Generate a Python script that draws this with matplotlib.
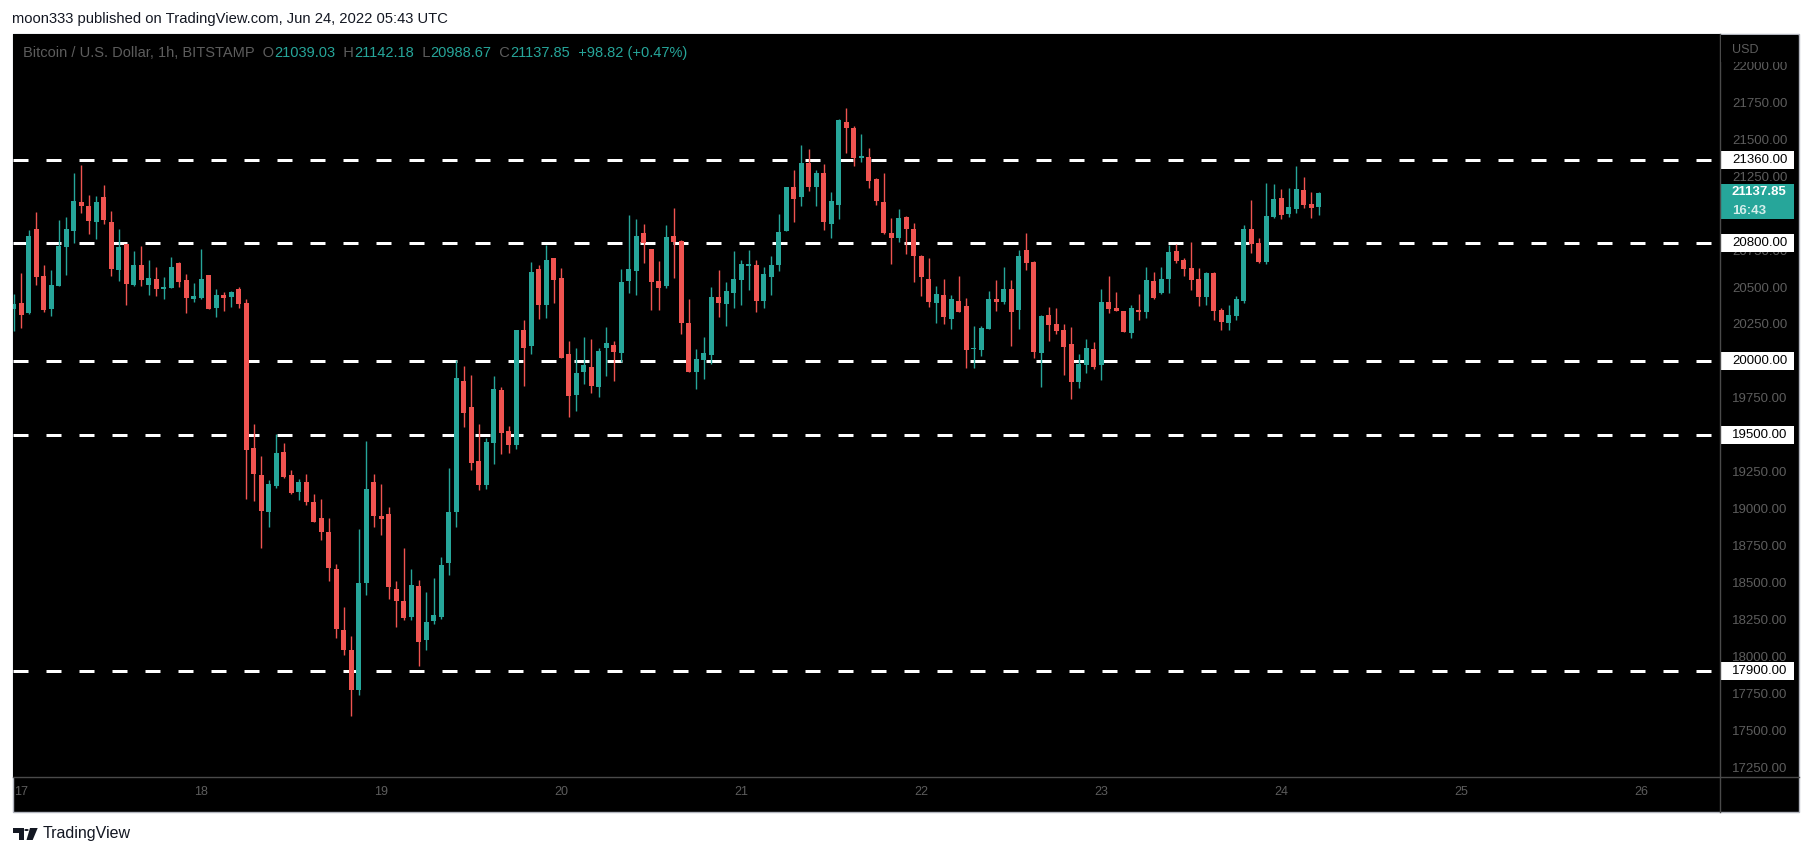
import numpy as np
import matplotlib
matplotlib.use("Agg")
from matplotlib import pyplot as plt
from matplotlib.patches import Rectangle, Polygon, Circle
from matplotlib.lines import Line2D
from matplotlib.transforms import blended_transform_factory

plt.rcParams['font.family'] = ['Liberation Sans', 'DejaVu Sans']

# BTCUSD 1h candles, first one is Jun 16 23:00, last one Jun 24 05:00
opens = [20351, 20392, 20324, 20893, 20575, 20354, 20509, 20773, 20882, 21076,
         21049, 20943, 21110, 20940, 20618, 20791, 20516, 20649, 20516, 20555,
         20489, 20496, 20663, 20548, 20421, 20428, 20582, 20360, 20446, 20435,
         20487, 20392, 19410, 19228, 18977, 19153, 19383, 19228, 19113, 19180,
         19045, 18937, 18842, 18591, 18178, 18043, 17772, 18496, 19180, 18950,
         18964, 18456, 18375, 18266, 18476, 18110, 18239, 18266, 18632, 18977,
         19864, 19687, 19322, 19159, 19444, 19802, 19525, 19430, 20209, 20100,
         20622, 20378, 20696, 20561, 20046, 19769, 19924, 19958, 19823, 20087,
         20107, 20053, 20541, 20608, 20866, 20757, 20541, 20507, 20845, 20811,
         20256, 19924, 20006, 20039, 20432, 20385, 20459, 20547, 20642, 20649,
         20405, 20567, 20649, 20879, 21177, 21109, 21339, 21177, 21272, 20926,
         21055, 21617, 21576, 21373, 21380, 21231, 21075, 20865, 20832, 20974,
         20893, 20710, 20554, 20391, 20446, 20284, 20406, 20372, 20081, 20074,
         20216, 20419, 20399, 20487, 20345, 20751, 20670, 20053, 20311, 20250,
         20209, 20114, 19857, 19972, 20081, 19972, 20399, 20358, 20338, 20189,
         20345, 20331, 20541, 20460, 20554, 20744, 20683, 20629, 20555, 20433,
         20595, 20345, 20257, 20304, 20406, 20893, 20798, 20670, 20974, 21103,
         20995, 21029, 21157, 21062, 21039.03]
highs = [20453, 20595, 20886, 21008, 20649, 20615, 20954, 20974, 21272, 21326,
         21123, 21117, 21191, 21015, 20893, 20791, 20744, 20778, 20683, 20636,
         20568, 20703, 20670, 20588, 20527, 20758, 20582, 20487, 20467, 20473,
         20500, 20419, 19573, 19356, 19194, 19505, 19444, 19262, 19201, 19234,
         19099, 19065, 18937, 18625, 18334, 18138, 18862, 19458, 19234, 19167,
         19011, 18510, 18733, 18591, 18517, 18435, 18530, 18672, 19275, 20006,
         19966, 19904, 19572, 19477, 19897, 19823, 19559, 20209, 20276, 20669,
         20649, 20784, 20696, 20629, 20134, 20087, 20161, 20148, 20087, 20229,
         20134, 20622, 20987, 20960, 20927, 20757, 20676, 20920, 21035, 20818,
         20419, 20080, 20161, 20500, 20615, 20534, 20744, 20683, 20750, 20683,
         20635, 20710, 20994, 21177, 21292, 21461, 21434, 21292, 21333, 21143,
         21637, 21712, 21590, 21536, 21441, 21238, 21272, 20967, 21028, 20981,
         20933, 20717, 20696, 20507, 20554, 20446, 20575, 20426, 20236, 20236,
         20473, 20548, 20636, 20548, 20751, 20866, 20676, 20311, 20365, 20358,
         20250, 20229, 20047, 20148, 20128, 20487, 20575, 20467, 20338, 20378,
         20453, 20636, 20602, 20636, 20785, 20791, 20697, 20805, 20629, 20602,
         20602, 20358, 20378, 20439, 20920, 21089, 20832, 21205, 21198, 21164,
         21171, 21320, 21245, 21144, 21142.18]
lows = [20202, 20225, 20320, 20516, 20333, 20306, 20509, 20582, 20801, 21004,
        20862, 20828, 20929, 20577, 20543, 20381, 20509, 20507, 20448, 20442,
        20421, 20496, 20503, 20327, 20401, 20421, 20354, 20300, 20340, 20367,
        20360, 19065, 19052, 18733, 18876, 19140, 19207, 19099, 19058, 19025,
        18909, 18788, 18510, 18124, 18009, 17596, 17738, 18415, 18876, 18821,
        18388, 18198, 18246, 18246, 17934, 18043, 18219, 18253, 18551, 18876,
        19553, 19263, 19125, 19132, 19301, 19369, 19376, 19403, 19830, 20046,
        20283, 20290, 20392, 20019, 19620, 19660, 19843, 19782, 19755, 19897,
        19863, 19992, 20459, 20446, 20662, 20344, 20344, 20493, 20561, 20182,
        19924, 19809, 19877, 19978, 20297, 20236, 20358, 20378, 20479, 20331,
        20358, 20446, 20608, 20879, 20940, 21048, 21150, 21048, 20886, 20832,
        20960, 21407, 21319, 21346, 21170, 21055, 20859, 20656, 20805, 20723,
        20534, 20439, 20364, 20256, 20250, 20216, 20331, 19952, 19952, 20033,
        20216, 20338, 20385, 20101, 20216, 20615, 20020, 19823, 20135, 20182,
        19904, 19742, 19817, 19918, 19945, 19871, 20324, 20338, 20196, 20155,
        20277, 20290, 20419, 20453, 20460, 20663, 20575, 20480, 20372, 20378,
        20277, 20209, 20209, 20277, 20392, 20731, 20663, 20656, 20968, 20961,
        20974, 21001, 21035, 20968, 20988.67]
closes = [20385, 20313, 20846, 20570, 20347, 20514, 20778, 20893, 21083, 21051,
          20950, 21076, 20956, 20625, 20771, 20523, 20649, 20550, 20561, 20489,
          20500, 20636, 20536, 20428, 20439, 20555, 20354, 20446, 20428, 20467,
          20388, 19397, 19234, 18984, 19167, 19377, 19214, 19106, 19180, 19045,
          18909, 18842, 18598, 18185, 18043, 17772, 18496, 19133, 18950, 18930,
          18469, 18375, 18259, 18483, 18097, 18232, 18280, 18618, 18977, 19884,
          19647, 19310, 19159, 19450, 19809, 19511, 19430, 20209, 20087, 20601,
          20378, 20683, 20547, 20019, 19762, 19918, 19972, 19830, 20067, 20121,
          20060, 20534, 20622, 20845, 20798, 20534, 20493, 20838, 20805, 20256,
          19924, 20012, 20053, 20432, 20391, 20473, 20554, 20656, 20656, 20405,
          20588, 20649, 20872, 21177, 21096, 21339, 21177, 21272, 20940, 21082,
          21631, 21576, 21373, 21387, 21218, 21082, 20865, 20832, 20967, 20893,
          20710, 20568, 20398, 20452, 20297, 20419, 20331, 20074, 20087, 20223,
          20419, 20399, 20487, 20331, 20710, 20663, 20060, 20304, 20243, 20202,
          20094, 19857, 19979, 20087, 19959, 20399, 20351, 20338, 20196, 20358,
          20331, 20548, 20426, 20554, 20737, 20676, 20622, 20548, 20433, 20595,
          20338, 20263, 20311, 20419, 20893, 20792, 20670, 20981, 21096, 20988,
          21042, 21164, 21056, 21035, 21137.85]

levels = [21360, 20800, 20000, 19500, 17900]
# scale labels that stay visible (the others sit under the level boxes)
price_ticks = [17250, 17500, 17750, 18000, 18250, 18500, 18750, 19000, 19250,
               19750, 20250, 20500, 20750, 21250, 21500, 21750, 22000]
day_labels = ['17', '18', '19', '20', '21', '22', '23', '24', '25', '26']

TEAL = '#26a69a'
RED = '#ef5350'
AXTXT = '#5d5d5d'
DARK = '#131722'

W, H = 1813, 856
def fx(px):
    return px / W
def fy(py):
    return 1 - py / H

fig = plt.figure(figsize=(W / 100, H / 100), dpi=100, facecolor='white')

# black chart frame
fig.add_artist(Rectangle((fx(12.7), fy(811.7)), fx(1799) - fx(12.7), fy(34) - fy(811.7),
                         transform=fig.transFigure, facecolor='black',
                         edgecolor='#b2b5be', lw=1, zorder=-1))

ax = fig.add_axes([fx(12.7), fy(776.7), fx(1720) - fx(12.7), fy(34) - fy(776.7)])
ax.set_facecolor('black')
for s in ax.spines.values():
    s.set_visible(False)
ax.set_xlim(-1.15, 226.5)
ax.set_ylim(17185, 22213)

o = np.array(opens)
h = np.array(highs)
l = np.array(lows)
c = np.array(closes)
x = np.arange(len(o)) - 1
cols = np.where(c >= o, TEAL, RED)

for lvl in levels:
    ax.axhline(lvl, color='white', lw=2.16, dashes=(5, 6), zorder=2)

ax.vlines(x, l, h, colors=cols, lw=1, zorder=3)
ax.bar(x, np.maximum(np.abs(c - o), 8), bottom=np.minimum(o, c), width=0.68,
       color=cols, linewidth=0, zorder=4)

# axes ticks
ax.yaxis.tick_right()
ax.set_yticks(price_ticks)
ax.set_yticklabels(['%.2f' % p for p in price_ticks])
ax.tick_params(axis='y', length=0, pad=8.6, labelcolor=AXTXT, labelsize=9.5)
ax.set_xticks(np.arange(len(day_labels)) * 24)
ax.set_xticklabels(day_labels)
ax.tick_params(axis='x', length=0, pad=6.5, labelcolor=AXTXT, labelsize=9)

# separators
fig.add_artist(Line2D([fx(1720), fx(1720)], [fy(34), fy(811.7)], transform=fig.transFigure,
                      color='#4a4a4a', lw=1, zorder=3))
fig.add_artist(Line2D([fx(12.7), fx(1799)], [fy(776.7), fy(776.7)], transform=fig.transFigure,
                      color='#4a4a4a', lw=1, zorder=3))

# price level labels on the axis
tr = blended_transform_factory(fig.transFigure, ax.transData)
for lvl in levels:
    ax.add_patch(Rectangle((fx(1720.5), lvl - 61), fx(1794) - fx(1720.5), 122, transform=tr,
                           facecolor='white', edgecolor='none', clip_on=False, zorder=10))
    ax.text(fx(1732), lvl, '%.2f' % lvl, transform=tr, color='black', fontsize=9.5,
            va='center', ha='left', clip_on=False, zorder=11)

last = closes[-1]
ax.add_patch(Rectangle((fx(1720.5), last - 177), fx(1794) - fx(1720.5), 237, transform=tr,
                       facecolor=TEAL, edgecolor='none', clip_on=False, zorder=10))
ax.text(fx(1732), last + 8, '%.2f' % last, transform=tr, color='white', fontsize=9.5,
        fontweight='bold', va='center', ha='left', clip_on=False, zorder=11)
ax.text(fx(1732), last - 122, '16:43', transform=tr, color='#d4eeeb', fontsize=9.5,
        fontweight='bold', va='center', ha='left', clip_on=False, zorder=11)

# USD header on the price scale
fig.add_artist(Rectangle((fx(1721), fy(62)), fx(1798) - fx(1721), fy(35) - fy(62),
                         transform=fig.transFigure, facecolor='black', edgecolor='none', zorder=5))
fig.text(fx(1732), fy(50), 'USD', color=AXTXT, fontsize=9, va='center', ha='left', zorder=6)

# legend line
parts = [('Bitcoin / U.S. Dollar, 1h, BITSTAMP  O', AXTXT), ('21039.03', TEAL),
         ('  H', AXTXT), ('21142.18', TEAL), ('  L', AXTXT), ('20988.67', TEAL),
         ('  C', AXTXT), ('21137.85', TEAL), ('  +98.82 (+0.47%)', TEAL)]
prev = fig.text(fx(23), fy(53), parts[0][0], color=parts[0][1], fontsize=10.5,
                va='center', ha='left', zorder=6)
for txt, col in parts[1:]:
    prev = ax.annotate(txt, xy=(1, 0.5), xycoords=prev, va='center', ha='left', color=col,
                       fontsize=10.5, annotation_clip=False, zorder=12)

# header and footer
fig.text(fx(12), fy(18.5), 'moon333 published on TradingView.com, Jun 24, 2022 05:43 UTC',
         color=DARK, fontsize=10.6, va='center', ha='left')

def px_poly(pts):
    return Polygon([(fx(a), fy(b)) for a, b in pts], closed=True, transform=fig.transFigure,
                   facecolor=DARK, edgecolor='none')

fig.add_artist(px_poly([(12.7, 828), (24, 828), (24, 840), (18.5, 840), (18.5, 832.5), (12.7, 832.5)]))
fig.add_artist(Circle((fx(26.5), fy(830)), 2.2 / W, transform=fig.transFigure,
                      facecolor=DARK, edgecolor='none'))
fig.add_artist(px_poly([(30, 828), (37.7, 828), (32.7, 840), (26.5, 840)]))
fig.text(fx(43), fy(833.5), 'TradingView', color=DARK, fontsize=11.5, va='center', ha='left')

fig.savefig('out.png', dpi=100, facecolor='white')
